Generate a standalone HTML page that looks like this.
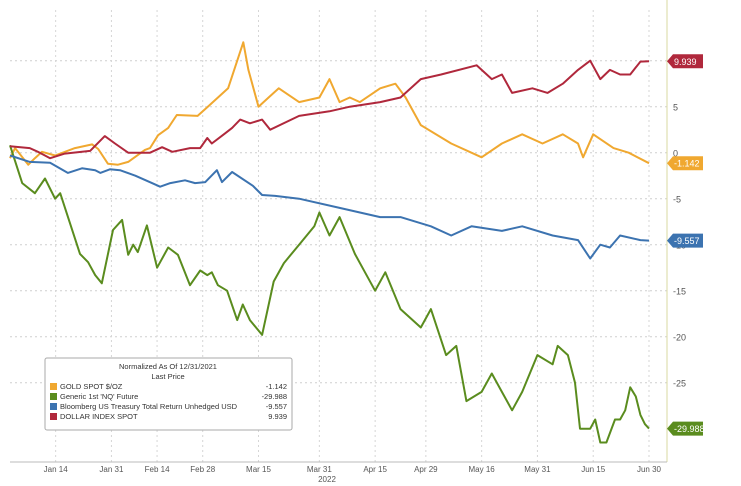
<!DOCTYPE html>
<html><head><meta charset="utf-8"><style>
body{margin:0;background:#fff;font-family:"Liberation Sans",sans-serif}
svg{display:block}
</style></head><body>
<svg id="chart" width="741" height="486" viewBox="0 0 741 486"></svg>
<script>
const goldDays=[0,1,3.6,4.9,6.3,8.9,12.8,16.2,17.4,19.3,21.3,23.3,26.6,27.6,29.2,31.2,32.9,37,39,43,46,47,49,51,53,57,61,63,65,67,69,73,76,78,81,87,93,97,101,105,109,112,113,115,119,122,126];
const goldVals=[-0.6,0.5,-1.3,-0.6,0.1,-0.3,0.5,0.9,0.4,-1.2,-1.3,-1,0.3,0.5,1.9,2.7,4.1,4,5,7,12,9,5,6,7,5.5,6,8,5.5,6,5.5,7,7.5,6,3,1,-0.5,1,2,1,2,1,-0.5,2,0.5,0,-1.142];
const usdDays=[0,3.9,5.5,7.9,10.8,15.8,18.7,20.7,23.3,27.6,30,32,35.5,37.5,38.9,39.8,42.4,43.8,45.4,47.3,49.7,51.3,57,63,67,73,77,81,85,92,95,97,99,103,106,109,112,114.4,116.4,118.3,120.3,122.3,124.3,126];
const usdVals=[0.7,0.5,0.1,-0.6,-0.1,0.2,1.8,1.0,0,0,0.6,0.1,0.5,0.5,1.6,1.0,2.1,2.7,3.6,3.2,3.6,2.5,4,4.5,5,5.5,6,8,8.5,9.5,8,8.5,6.5,7,6.5,7.5,9,10,8,9,8.5,8.5,9.9,9.939];
const tsyDays=[0,3.9,7.9,11.4,14.2,16.8,17.8,19.7,21.7,24.7,28,29.6,31.6,34.5,36.5,38.5,40.8,41.8,43.8,47.9,49.7,52.3,57,65,73,77,83,87,91,97,101,107,112,114.4,116.4,118.3,120.3,124.3,126];
const tsyVals=[-0.3,-1,-1.1,-2.2,-1.7,-1.9,-2.2,-1.8,-1.9,-2.5,-3.3,-3.7,-3.3,-3,-3.3,-3.2,-1.9,-3.2,-2.1,-3.6,-4.6,-4.7,-5,-6,-7,-7,-8,-9,-8,-8.5,-8,-9,-9.5,-11.5,-10,-10.3,-9,-9.5,-9.557];
const nqDays=[0,2.4,4.9,6.9,8.9,9.9,13.8,15.4,16.8,18.1,20.3,22.1,23.3,24.3,25.2,27,29,31.2,33.1,35.5,37.5,38.9,39.8,41,42.8,44.8,45.9,47.3,49.7,52,54,57,60,61,63,65,68,70,72,74,77,79,81,83,86,88,90,93,95,97,99,101,104,107,108,110,111.4,112.4,114.4,115.4,116.4,117.6,119.3,120.3,121.3,122.3,123.4,124.3,125.2,126];
const nqVals=[0.8,-3.3,-4.4,-2.8,-5,-4.4,-11,-11.9,-13.3,-14.2,-8.4,-7.3,-11.1,-10,-10.8,-7.9,-12.5,-10.3,-11.1,-14.4,-12.8,-13.3,-13,-14.4,-15,-18.2,-16.5,-18.2,-19.8,-14,-12,-10,-8,-6.5,-9,-7,-11,-13,-15,-13,-17,-18,-19,-17,-22,-21,-27,-26,-24,-26,-28,-26,-22,-23,-21,-22,-25,-30,-30,-29,-31.5,-31.5,-29,-29,-28,-25.5,-26.5,-28.5,-29.5,-29.988];
const yTicks=[10,5,0,-5,-10,-15,-20,-25];
const xTickDays=[9,20,29,38,49,61,72,82,93,104,115,126];
const xTickLabels=["Jan 14","Jan 31","Feb 14","Feb 28","Mar 15","Mar 31","Apr 15","Apr 29","May 16","May 31","Jun 15","Jun 30"];
const legendNames=["GOLD SPOT $/OZ","Generic 1st 'NQ' Future","Bloomberg US Treasury Total Return Unhedged USD","DOLLAR INDEX SPOT"];
const lastVals=["-1.142","-29.988","-9.557","9.939"];
const colors=["#f0a830","#5a8c1e","#3c73b0","#b0283c"];

const svg=document.getElementById('chart');const NS='http://www.w3.org/2000/svg';
const X=d=>10+d*(649-10)/126;
const Y=v=>152.7-v*9.2;
function mk(tag,attrs,parent){const e=document.createElementNS(NS,tag);for(const k in attrs)e.setAttribute(k,attrs[k]);(parent||svg).appendChild(e);return e;}
yTicks.forEach(v=>{
 const l=mk('line',{x1:10,x2:667,y1:Y(v),y2:Y(v),stroke:'#cfcfcf','stroke-dasharray':'2,3'});
 
 
 const t=mk('text',{x:673,y:Y(v)+4,'font-size':9,fill:'#555'});t.textContent=v;
 
 
});
xTickDays.forEach((d,i)=>{
 const l=mk('line',{x1:X(d),x2:X(d),y1:10,y2:462,stroke:'#d6d6d6','stroke-dasharray':'2,3'});
 
 
 const t=mk('text',{x:X(d),y:472,'font-size':8,fill:'#555','text-anchor':'middle'});t.textContent=xTickLabels[i];
 
 
});
const ax=mk('line',{x1:667,x2:667,y1:0,y2:462,stroke:'#d8d8a0'});


const xa=mk('line',{x1:10,x2:667,y1:462,y2:462,stroke:'#bbb'});


const yr=mk('text',{x:327,y:482,'font-size':8,fill:'#555','text-anchor':'middle'});yr.textContent='2022';


const series=[[goldDays,goldVals],[nqDays,nqVals],[tsyDays,tsyVals],[usdDays,usdVals]];
const snames=['gold-line','nq-line','treasury-line','dollar-line'];
series.forEach((s,i)=>{
 const pts=s[0].map((d,j)=>X(d).toFixed(1)+','+Y(s[1][j]).toFixed(1)).join(' ');
 const p=mk('polyline',{points:pts,fill:'none',stroke:colors[i],'stroke-width':2,'stroke-linejoin':'round'});
 
 
 const v=s[1][s[1].length-1];const y=Y(v);
 const g=mk('g',{});
 
 
 mk('path',{d:`M667 ${y} L673 ${y-7} L703 ${y-7} L703 ${y+7} L673 ${y+7} Z`,fill:colors[i]},g);
 const t=mk('text',{x:674,y:y+3.5,'font-size':9,fill:'#fff'},g);t.textContent=lastVals[i];
});
const lg=mk('g',{});


mk('rect',{x:45,y:358,width:247,height:72,fill:'#fff',stroke:'#aaa','stroke-width':1,rx:2},lg);
let t=mk('text',{x:168,y:369,'font-size':7.5,fill:'#333','text-anchor':'middle'},lg);t.textContent='Normalized As Of 12/31/2021';
t=mk('text',{x:168,y:379,'font-size':7.5,fill:'#333','text-anchor':'middle'},lg);t.textContent='Last Price';
legendNames.forEach((n,i)=>{
 const e=mk('g',{},lg);
 
 
 const yy=389+i*10;
 mk('rect',{x:50,y:yy-6,width:7,height:7,fill:colors[i]},e);
 let a=mk('text',{x:60,y:yy,'font-size':7.5,fill:'#333'},e);a.textContent=n;
 a=mk('text',{x:287,y:yy,'font-size':7.5,fill:'#333','text-anchor':'end'},e);a.textContent=lastVals[i];
});
</script>
</body></html>
